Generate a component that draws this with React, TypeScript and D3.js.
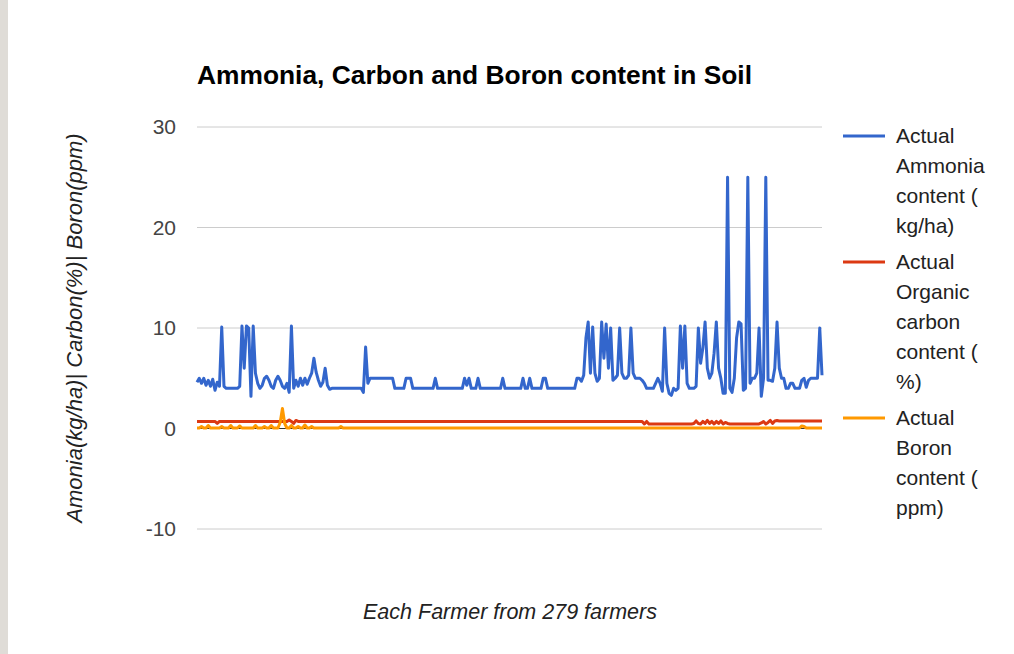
import React from "react";
import * as d3 from "d3";

const title = "Ammonia, Carbon and Boron content in Soil";
const yAxisTitle = "Amonia(kg/ha)| Carbon(%)| Boron(ppm)";
const xAxisTitle = "Each Farmer from 279 farmers";
const yTicks = [-10, 0, 10, 20, 30];

const seriesNames = [
  ["Actual", "Ammonia", "content (", "kg/ha)"],
  ["Actual", "Organic", "carbon", "content (", "%)"],
  ["Actual", "Boron", "content (", "ppm)"],
];
const seriesColors = ["#3366cc", "#dc3912", "#ff9900"];

const ammonia = [
  4.6, 5, 4.5, 5, 4.3, 4.8, 4.2, 4.9, 3.8, 4.6,
  4.2, 10.1, 4.2, 4, 4, 4, 4, 4, 4, 4.2,
  10.2, 6, 10.2, 10, 3.2, 10.2, 5.5, 4.5, 4, 4.3,
  5, 5.2, 4.8, 4.2, 4, 4.8, 5.2, 4.8, 4.2, 4,
  4.5, 3.6, 10.2, 4, 4.8, 4.2, 5, 4.3, 5, 4.4,
  5, 5.5, 7, 5.6, 4.8, 4.2, 4.6, 6, 4.3, 3.9,
  4, 4, 4, 4, 4, 4, 4, 4, 4, 4,
  4, 4, 4, 4, 3.6, 8.1, 4.5, 5, 5, 5,
  5, 5, 5, 5, 5, 5, 5, 5, 4, 4,
  4, 4, 4, 5, 5, 5, 4, 4, 4, 4,
  4, 4, 4, 4, 4, 4, 5, 4, 4, 4,
  4, 4, 4, 4, 4, 4, 4, 4, 4, 5,
  4.3, 5, 4, 4, 4, 5, 4, 4, 4, 4,
  4, 4, 4, 4, 4, 4, 5, 4, 4, 4,
  4, 4, 4, 4, 4, 5, 4, 4, 5, 4,
  4, 4, 4, 4, 5, 5, 4, 4, 4, 4,
  4, 4, 4, 4, 4, 4, 4, 4, 4, 5,
  5, 4.7, 5.3, 9, 10.6, 5.5, 10.1, 5.5, 4.7, 5,
  10.6, 7, 10.4, 6, 10, 4.8, 5, 5.3, 10, 5.5,
  5, 5, 5.3, 10, 5.5, 5, 5, 5, 4.8, 4.5,
  4, 4, 4, 4, 4.5, 5, 4.5, 3.7, 10, 4.5,
  3.5, 3.3, 4, 3.8, 4, 10.2, 6, 10.2, 4.5, 4,
  4, 4, 4.2, 10, 6.5, 8, 10.6, 6, 5, 5.5,
  7.5, 10.6, 6, 5, 3.5, 3.5, 25, 4, 3.6, 5,
  9, 10.6, 10.4, 3.8, 4, 25, 4.5, 5, 5, 5.5,
  10, 3.2, 5, 25, 4.8, 4.8, 4.7, 6, 10.6, 6,
  5, 5, 4, 4, 4.5, 4.5, 4, 4, 4, 4.8,
  5, 4.1, 4.8, 5, 5, 5, 5, 10, 5.3,
];

const carbon = [
  0.7, 0.7, 0.7, 0.7, 0.7, 0.7, 0.7, 0.7, 0.7, 0.5,
  0.7, 0.7, 0.7, 0.7, 0.7, 0.7, 0.7, 0.7, 0.7, 0.7,
  0.7, 0.7, 0.7, 0.7, 0.7, 0.7, 0.7, 0.7, 0.7, 0.7,
  0.7, 0.7, 0.7, 0.7, 0.7, 0.7, 0.7, 0.7, 0.7, 0.7,
  0.7, 0.85, 0.7, 0.5, 0.8, 0.7, 0.7, 0.7, 0.7, 0.7,
  0.7, 0.7, 0.7, 0.7, 0.7, 0.7, 0.7, 0.7, 0.7, 0.7,
  0.7, 0.7, 0.7, 0.7, 0.7, 0.7, 0.7, 0.7, 0.7, 0.7,
  0.7, 0.7, 0.7, 0.7, 0.7, 0.7, 0.7, 0.7, 0.7, 0.7,
  0.7, 0.7, 0.7, 0.7, 0.7, 0.7, 0.7, 0.7, 0.7, 0.7,
  0.7, 0.7, 0.7, 0.7, 0.7, 0.7, 0.7, 0.7, 0.7, 0.7,
  0.7, 0.7, 0.7, 0.7, 0.7, 0.7, 0.7, 0.7, 0.7, 0.7,
  0.7, 0.7, 0.7, 0.7, 0.7, 0.7, 0.7, 0.7, 0.7, 0.7,
  0.7, 0.7, 0.7, 0.7, 0.7, 0.7, 0.7, 0.7, 0.7, 0.7,
  0.7, 0.7, 0.7, 0.7, 0.7, 0.7, 0.7, 0.7, 0.7, 0.7,
  0.7, 0.7, 0.7, 0.7, 0.7, 0.7, 0.7, 0.7, 0.7, 0.7,
  0.7, 0.7, 0.7, 0.7, 0.7, 0.7, 0.7, 0.7, 0.7, 0.7,
  0.7, 0.7, 0.7, 0.7, 0.7, 0.7, 0.7, 0.7, 0.7, 0.7,
  0.7, 0.7, 0.7, 0.7, 0.7, 0.7, 0.7, 0.7, 0.7, 0.7,
  0.7, 0.7, 0.7, 0.7, 0.7, 0.7, 0.7, 0.7, 0.7, 0.7,
  0.7, 0.7, 0.7, 0.7, 0.7, 0.7, 0.7, 0.7, 0.7, 0.45,
  0.7, 0.45, 0.45, 0.45, 0.45, 0.45, 0.45, 0.45, 0.45, 0.45,
  0.45, 0.45, 0.45, 0.45, 0.45, 0.45, 0.45, 0.45, 0.45, 0.45,
  0.45, 0.5, 0.75, 0.5, 0.45, 0.7, 0.5, 0.8, 0.5, 0.7,
  0.45, 0.7, 0.5, 0.75, 0.45, 0.6, 0.5, 0.45, 0.45, 0.45,
  0.45, 0.45, 0.45, 0.45, 0.45, 0.45, 0.45, 0.45, 0.45, 0.45,
  0.45, 0.55, 0.7, 0.45, 0.6, 0.8, 0.5, 0.75, 0.8, 0.75,
  0.75, 0.75, 0.75, 0.75, 0.75, 0.75, 0.75, 0.75, 0.75, 0.75,
  0.75, 0.75, 0.75, 0.75, 0.75, 0.75, 0.75, 0.75, 0.75,
];

const boron = [
  0.05, 0.05, 0.2, 0.05, 0.05, 0.3, 0.05, 0.05, 0.05, 0.05,
  0.05, 0.2, 0.05, 0.05, 0.05, 0.3, 0.05, 0.05, 0.05, 0.25,
  0.05, 0.05, 0.05, 0.05, 0.05, 0.05, 0.3, 0.05, 0.05, 0.05,
  0.2, 0.05, 0.05, 0.3, 0.05, 0.05, 0.05, 0.6, 2.0, 0.5,
  0.05, 0.05, 0.3, 0.05, 0.05, 0.2, 0.05, 0.05, 0.35, 0.05,
  0.05, 0.2, 0.05, 0.05, 0.05, 0.05, 0.05, 0.05, 0.05, 0.05,
  0.05, 0.05, 0.05, 0.05, 0.2, 0.05, 0.05, 0.05, 0.05, 0.05,
  0.05, 0.05, 0.05, 0.05, 0.05, 0.05, 0.05, 0.05, 0.05, 0.05,
  0.05, 0.05, 0.05, 0.05, 0.05, 0.05, 0.05, 0.05, 0.05, 0.05,
  0.05, 0.05, 0.05, 0.05, 0.05, 0.05, 0.05, 0.05, 0.05, 0.05,
  0.05, 0.05, 0.05, 0.05, 0.05, 0.05, 0.05, 0.05, 0.05, 0.05,
  0.05, 0.05, 0.05, 0.05, 0.05, 0.05, 0.05, 0.05, 0.05, 0.05,
  0.05, 0.05, 0.05, 0.05, 0.05, 0.05, 0.05, 0.05, 0.05, 0.05,
  0.05, 0.05, 0.05, 0.05, 0.05, 0.05, 0.05, 0.05, 0.05, 0.05,
  0.05, 0.05, 0.05, 0.05, 0.05, 0.05, 0.05, 0.05, 0.05, 0.05,
  0.05, 0.05, 0.05, 0.05, 0.05, 0.05, 0.05, 0.05, 0.05, 0.05,
  0.05, 0.05, 0.05, 0.05, 0.05, 0.05, 0.05, 0.05, 0.05, 0.05,
  0.05, 0.05, 0.05, 0.05, 0.05, 0.05, 0.05, 0.05, 0.05, 0.05,
  0.05, 0.05, 0.05, 0.05, 0.05, 0.05, 0.05, 0.05, 0.05, 0.05,
  0.05, 0.05, 0.05, 0.05, 0.05, 0.05, 0.05, 0.05, 0.05, 0.05,
  0.05, 0.05, 0.05, 0.05, 0.05, 0.05, 0.05, 0.05, 0.05, 0.05,
  0.05, 0.05, 0.05, 0.05, 0.05, 0.05, 0.05, 0.05, 0.05, 0.05,
  0.05, 0.05, 0.05, 0.05, 0.05, 0.05, 0.05, 0.05, 0.05, 0.05,
  0.05, 0.05, 0.05, 0.05, 0.05, 0.05, 0.05, 0.05, 0.05, 0.05,
  0.05, 0.05, 0.05, 0.05, 0.05, 0.05, 0.05, 0.05, 0.05, 0.05,
  0.05, 0.05, 0.05, 0.05, 0.05, 0.05, 0.05, 0.05, 0.05, 0.05,
  0.05, 0.05, 0.05, 0.05, 0.05, 0.05, 0.05, 0.05, 0.05, 0.25,
  0.2, 0.05, 0.05, 0.05, 0.05, 0.05, 0.05, 0.05, 0.05,
];

const W = 1014;
const H = 654;
const FONT = "'Liberation Sans', Arial, sans-serif";

export default function App() {
  const x = d3.scaleLinear().domain([0, ammonia.length - 1]).range([197, 822]);
  const y = d3.scaleLinear().domain([-10, 30]).range([529, 127]);
  const line = d3
    .line<number>()
    .x((_, i) => x(i))
    .y((d) => y(d));
  const series = [ammonia, carbon, boron];
  const legendTops = [136, 262, 418];

  return (
    <svg
      width={W}
      height={H}
      style={{ position: "absolute", left: 0, top: 0, display: "block", background: "#fff" }}
      fontFamily={FONT}
    >
      <rect x={0} y={0} width={W} height={H} fill="#fff" />
      <rect x={0} y={0} width={8} height={H} fill="#dfdcd7" />
      <text x={197} y={84} fontSize={26} fontWeight="bold" fill="#000" textLength={555} lengthAdjust="spacingAndGlyphs">
        {title}
      </text>
      {yTicks.map((t) => (
        <g key={t}>
          {t !== 0 && (
            <line x1={197} x2={822} y1={y(t)} y2={y(t)} stroke="#cccccc" strokeWidth={1} />
          )}
          <text x={176} y={y(t)} dy="0.35em" textAnchor="end" fontSize={21} fill="#444">
            {t}
          </text>
        </g>
      ))}
      <line x1={197} x2={822} y1={y(0)} y2={y(0)} stroke="#333" strokeWidth={1} />
      {series.map((s, k) => (
        <path key={k} d={line(s) || ""} fill="none" stroke={seriesColors[k]} strokeWidth={3} strokeLinejoin="round" />
      ))}
      <text
        transform={`translate(82, 328) rotate(-90)`}
        textAnchor="middle"
        fontSize={22}
        fontStyle="italic"
        fill="#222"
      >
        {yAxisTitle}
      </text>
      <text x={510} y={619} textAnchor="middle" fontSize={21.5} fontStyle="italic" fill="#222">
        {xAxisTitle}
      </text>
      {seriesNames.map((lines, k) => (
        <g key={k}>
          <line x1={843} x2={885} y1={legendTops[k]} y2={legendTops[k]} stroke={seriesColors[k]} strokeWidth={3} />
          {lines.map((ln, j) => (
            <text key={j} x={896} y={legendTops[k] + j * 30} dy="0.35em" fontSize={21} fill="#222">
              {ln}
            </text>
          ))}
        </g>
      ))}
    </svg>
  );
}
